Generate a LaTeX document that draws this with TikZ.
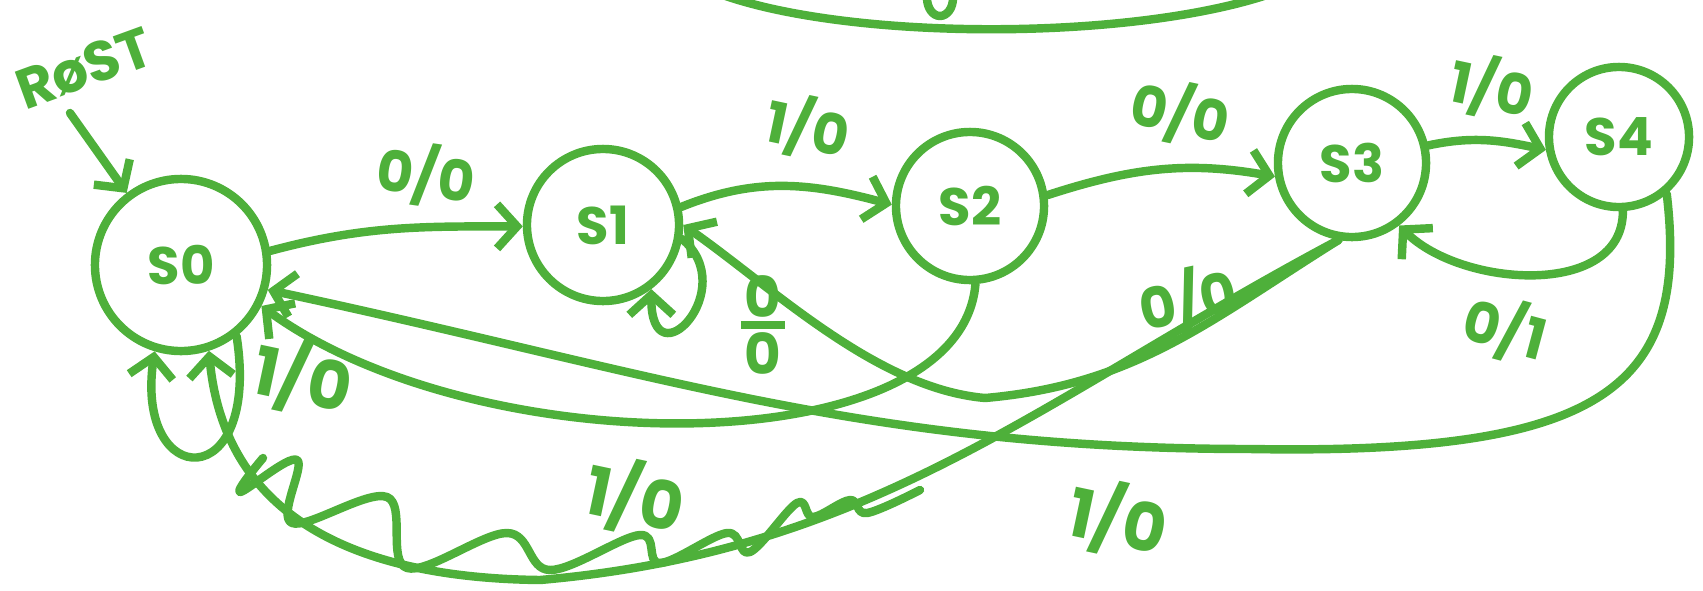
\documentclass[tikz,border=0pt]{standalone}
\usepackage{fontspec}
\setmainfont{Poppins}
\usetikzlibrary{arrows.meta}
\definecolor{marker}{RGB}{78,176,58}

\begin{document}
\begin{tikzpicture}[x=0.01cm,y=0.01cm,
    line width=2.4pt,line cap=round,line join=round,draw=marker,text=marker,
    >={Straight Barb[length=2mm,width=4.4mm]},
    stt/.style={draw,circle,inner sep=0pt,font=\fontsize{15}{15}\selectfont\bfseries},
    lbl/.style={inner sep=0pt,font=\fontsize{16}{16}\selectfont\bfseries},
    big/.style={inner sep=0pt,font=\fontsize{19}{19}\selectfont\bfseries}]
  \useasboundingbox (0,0) rectangle (1703,590);
  % states
  \node[stt,minimum size=1.72cm] (s0) at (181,325) {S0};
  \node[stt,minimum size=1.52cm] (s1) at (603,365) {S1};
  \node[stt,minimum size=1.48cm] (s2) at (970,384) {S2};
  \node[stt,minimum size=1.48cm] (s3) at (1352,427) {S3};
  \node[stt,minimum size=1.40cm] (s4) at (1619,453) {S4};
  % reset
  \node[lbl,rotate=20] (rst) at (84,522) {RøST};
  \coordinate (rstart) at (70,477);
  \draw[->] (rstart) -- (s0.127);
  % forward edges
  \draw[->] (s0.9) to[out=15,in=180] (s1.181);
  \draw[->] (s1.13) to[out=22,in=165] (s2.179);
  \draw[->] (s2.8) to[out=18,in=170] (s3.190);
  \draw[->] (s3.13) to[out=12,in=168] (s4.190);
  \draw[->] (s4.-87) to[out=-90,in=-45] (s3.-53);
  % self loops
  \draw[->] (s1.-10) .. controls +(60,-50) and +(0,-95) .. (s1.-53);
  \draw[->] (s0.-52) .. controls +(25,-160) and +(-20,-140) .. (s0.-107);
  % back edges
  \coordinate (k31) at (985,192);
  \coordinate (k40) at (1250,141);
  \coordinate (k30) at (540,10);
  \draw[->] (s2.-86) .. controls (960,125) and (480,125) .. (s0.-27);
  \draw[->] (s4.-50) .. controls (1690,200) and (1600,135) .. (k40)
    to[out=180,in=-12] (s0.-16);
  \draw[->] (s3.-100) to[out=-148,in=5] (k31)
    to[out=175,in=-35,looseness=0.8] (s1.0);
  \draw[->] (s3.-100) to[out=-152,in=5] (k30)
    .. controls (360,12) and (225,70) .. (s0.-72);
  % scribble
  \draw plot[smooth,tension=0.6] coordinates {(263,132) (240,98) (297,130)
    (292,67) (387,93) (407,22) (507,57) (550,20) (640,55) (660,27) (727,57)
    (750,38) (797,87) (813,73) (850,90) (867,77) (920,100)};
  % labels
  \node[lbl,rotate=-8] (l01) at (426,415) {0/0};
  \node[lbl,rotate=-12] (l12) at (808,462) {1/0};
  \node[lbl,rotate=-12] (l23) at (1180,477) {0/0};
  \node[lbl,rotate=-12] (l34) at (1492,502) {1/0};
  \node[lbl,rotate=-15] (l43) at (1505,261) {0/1};
  \node[lbl,rotate=12] (l31) at (1188,290) {0/0};
  \node[lbl] (l11) at (763,265)
    {$\vcenter{\hbox to 4.4mm{\hss0\hss}\kern1pt\hrule height 2.4pt\kern1pt\hbox to 4.4mm{\hss0\hss}}$};
  \node[big,rotate=-12] (l00) at (303,212) {1/0};
  \node[big,rotate=-12] (l30) at (635,92) {1/0};
  \node[big,rotate=-12] (l40) at (1118,70) {1/0};
  % cut off part at top
  \draw (720,596) .. controls (850,549) and (1130,549) .. (1270,596);
  \draw (940,592) ellipse (13 and 18);
\end{tikzpicture}
\end{document}
